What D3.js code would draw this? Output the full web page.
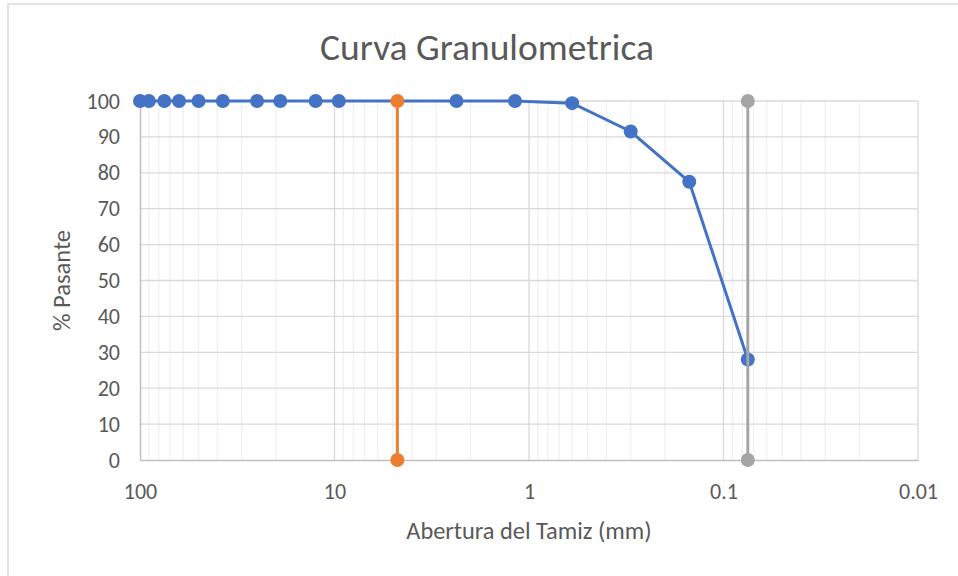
<!DOCTYPE html>
<html>
<head>
<meta charset="utf-8">
<script src="https://cdn.jsdelivr.net/npm/d3@7"></script>
<style>
  body { margin: 0; background: #fff; }
  text { font-family: Carlito, Calibri, Lato, sans-serif; fill: #595959; }
</style>
</head>
<body>
<div id="chart"></div>
<script>
// sieve openings (mm) and percent passing
let aberturas = [100, 90, 75, 63, 50, 37.5, 25, 19, 12.5, 9.5, 2.36, 1.18, 0.6, 0.3, 0.15, 0.075];
let pasante   = [100, 100, 100, 100, 100, 100, 100, 100, 100, 100, 100, 100, 99.4, 91.5, 77.5, 28];

// vertical reference lines
let linea_naranja = { x: [4.75, 4.75], y: [0, 100] };
let linea_gris    = { x: [0.075, 0.075], y: [100, 0] };

let x_ticks = [100, 10, 1, 0.1, 0.01];
let y_ticks = [0, 10, 20, 30, 40, 50, 60, 70, 80, 90, 100];

function add_svg(wrapper)
{
  let svg = d3.select(wrapper).append("svg");
  return svg.attr("width", 958).attr("height", 576);
}

function draw_chart(wrapper)
{
  let svg = add_svg(wrapper);

  // chart border
  svg.append("rect")
    .attr("x", 8).attr("y", 4)
    .attr("width", 970).attr("height", 600)
    .attr("fill", "none").attr("stroke", "#d9d9d9").attr("stroke-width", 1.5);

  let left = 140, right = 918, top = 101, bottom = 460;

  let scalex = d3.scaleLog().domain([100, 0.01]).range([left, right]);
  let scaley = d3.scaleLinear().domain([0, 100]).range([bottom, top]);

  // minor vertical gridlines
  let minor = [];
  [10, 1, 0.1, 0.01].forEach(function(d) {
    for (let k = 2; k <= 9; k++) minor.push(d * k);
  });
  svg.append("g").selectAll("line").data(minor).join("line")
    .attr("x1", d => scalex(d)).attr("x2", d => scalex(d))
    .attr("y1", top).attr("y2", bottom)
    .attr("stroke", "#f0f0f0").attr("stroke-width", 1.3);

  // major gridlines
  svg.append("g").selectAll("line").data(y_ticks.slice(1)).join("line")
    .attr("x1", left).attr("x2", right)
    .attr("y1", d => scaley(d)).attr("y2", d => scaley(d))
    .attr("stroke", "#d9d9d9").attr("stroke-width", 1.3);
  svg.append("g").selectAll("line").data(x_ticks.slice(1)).join("line")
    .attr("x1", d => scalex(d)).attr("x2", d => scalex(d))
    .attr("y1", top).attr("y2", bottom)
    .attr("stroke", "#d9d9d9").attr("stroke-width", 1.3);

  // axes
  let x_axis = d3.axisBottom(scalex).tickValues(x_ticks).tickFormat(d3.format("~g")).tickSize(0).tickPadding(23);
  let y_axis = d3.axisLeft(scaley).tickValues(y_ticks).tickSize(0).tickPadding(20);

  let gx = svg.append("g").attr("transform", "translate(0," + bottom + ")").call(x_axis);
  let gy = svg.append("g").attr("transform", "translate(" + left + ",0)").call(y_axis);
  [gx, gy].forEach(function(g) {
    g.select(".domain").attr("stroke", "#bfbfbf").attr("stroke-width", 1.5);
    g.selectAll("text").style("font-size", "22px").attr("fill", "#595959")
      .style("font-family", "Carlito, Calibri, Lato, sans-serif");
  });

  // titles
  svg.append("text").attr("x", 487).attr("y", 60)
    .attr("text-anchor", "middle").style("font-size", "37.5px").text("Curva Granulometrica");
  svg.append("text").attr("x", (left + right) / 2).attr("y", 539)
    .attr("text-anchor", "middle").style("font-size", "24.4px").text("Abertura del Tamiz (mm)");
  svg.append("text")
    .attr("transform", "translate(70," + ((top + bottom) / 2) + ") rotate(-90)")
    .attr("text-anchor", "middle").style("font-size", "24.5px").text("% Pasante");

  let line = d3.line().x(d => scalex(d[0])).y(d => scaley(d[1]));

  function series(xs, ys, color)
  {
    let pts = d3.zip(xs, ys);
    svg.append("path").datum(pts)
      .attr("d", line).attr("fill", "none")
      .attr("stroke", color).attr("stroke-width", 3);
    svg.append("g").selectAll("circle").data(pts).join("circle")
      .attr("cx", d => scalex(d[0])).attr("cy", d => scaley(d[1]))
      .attr("r", 7).attr("fill", color);
  }

  series(aberturas, pasante, "#4472C4");
  series(linea_naranja.x, linea_naranja.y, "#ED7D31");
  series(linea_gris.x, linea_gris.y, "#A5A5A5");
}

draw_chart("#chart");
</script>
</body>
</html>
